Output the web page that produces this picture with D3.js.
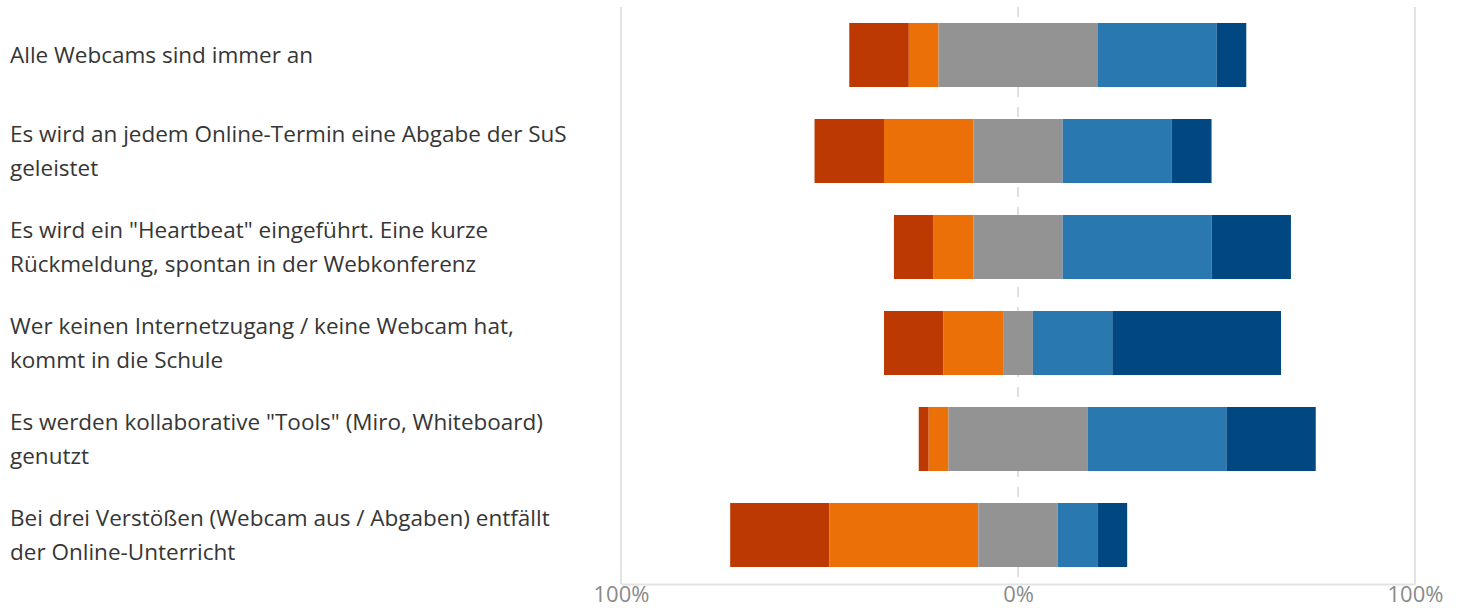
<!DOCTYPE html>
<html>
<head>
<meta charset="utf-8">
<script src="https://cdn.jsdelivr.net/npm/d3@7"></script>
<style>
  body { margin: 0; background: #fff; }
  svg { display: block; font-family: "Open Sans", "Noto Sans", sans-serif; }
</style>
</head>
<body>
<div id="chart"></div>
<script>
// Statements (line breaks as in the original)
const statements = [
  "Alle Webcams sind immer an",
  "Es wird an jedem Online-Termin eine Abgabe der SuS\ngeleistet",
  "Es wird ein \"Heartbeat\" eingeführt. Eine kurze\nRückmeldung, spontan in der Webkonferenz",
  "Wer keinen Internetzugang / keine Webcam hat,\nkommt in die Schule",
  "Es werden kollaborative \"Tools\" (Miro, Whiteboard)\ngenutzt",
  "Bei drei Verstößen (Webcam aus / Abgaben) entfällt\nder Online-Unterricht"
];

// Answer shares in percent, one array per answer level
const stronglyDisagree = [15, 17.5, 10, 15, 2.5, 25];
const disagree         = [7.5, 22.5, 10, 15, 5, 37.5];
const neutral          = [40, 22.5, 22.5, 7.5, 35, 20];
const agree            = [30, 27.5, 37.5, 20, 35, 10];
const stronglyAgree    = [7.5, 10, 20, 42.5, 22.5, 7.5];

const tickValues = [-100, 0, 100];
const tickLabels = ["100%", "0%", "100%"];

const keys = ["stronglyDisagree", "disagree", "neutral", "agree", "stronglyAgree"];
const colors = ["#bc3a01", "#eb7007", "#939393", "#2a78b0", "#014883"];

const data = statements.map((s, i) => ({
  label: s,
  stronglyDisagree: stronglyDisagree[i],
  disagree: disagree[i],
  neutral: neutral[i],
  agree: agree[i],
  stronglyAgree: stronglyAgree[i]
}));

const width = 1462, height = 608;

const svg = d3.select("#chart").append("svg")
  .attr("width", width)
  .attr("height", height);

const x = d3.scaleLinear().domain([-100, 100]).range([621, 1415]);
const y = d3.scaleBand()
  .domain(d3.range(data.length))
  .range([7, 583])
  .paddingInner(1 / 3)
  .paddingOuter(1 / 6);

const color = d3.scaleOrdinal().domain(keys).range(colors);

// grid lines at +/-100%
svg.append("g")
  .selectAll("line")
  .data(tickValues.filter(d => d !== 0))
  .join("line")
  .attr("x1", d => x(d)).attr("x2", d => x(d))
  .attr("y1", 7).attr("y2", 584)
  .attr("stroke", "#e3e3e3")
  .attr("stroke-width", 2);

// dashed zero line
svg.append("line")
  .attr("x1", x(0)).attr("x2", x(0))
  .attr("y1", 7).attr("y2", 584)
  .attr("stroke", "#e0e0e0")
  .attr("stroke-width", 2)
  .attr("stroke-dasharray", "10,10");

// bottom axis
const xAxis = svg.append("g")
  .attr("transform", "translate(0,584)")
  .call(d3.axisBottom(x).tickValues(tickValues).tickSize(0).tickPadding(2)
    .tickFormat((d, i) => tickLabels[i]));
xAxis.select(".domain").attr("stroke", "#e3e3e3").attr("stroke-width", 2);
xAxis.selectAll("text")
  .attr("fill", "#8a8a8a")
  .style("font-size", "22px")
  .style("font-family", "\"Open Sans\", sans-serif");

// diverging stack: neutral segment centred on 0%
const rows = svg.append("g")
  .selectAll("g")
  .data(data)
  .join("g")
  .attr("transform", (d, i) => `translate(0,${y(i)})`);

rows.each(function (d) {
  let start = -d.neutral / 2 - d.disagree - d.stronglyDisagree;
  const segs = keys.map(k => {
    const s = { key: k, x0: start, x1: start + d[k] };
    start += d[k];
    return s;
  });
  d3.select(this).selectAll("rect")
    .data(segs)
    .join("rect")
    .attr("x", s => x(s.x0))
    .attr("width", s => x(s.x1) - x(s.x0))
    .attr("y", 0)
    .attr("height", y.bandwidth())
    .attr("fill", s => color(s.key));
});

// statement labels
const labels = svg.append("g")
  .selectAll("text")
  .data(data)
  .join("text")
  .attr("x", 10)
  .attr("fill", "#363636")
  .style("font-size", "22.5px");

labels.each(function (d, i) {
  const lines = d.label.split("\n");
  const lh = 34;
  const cy = y(i) + y.bandwidth() / 2;
  const first = cy - (lines.length - 1) * lh / 2 + 8;
  d3.select(this).selectAll("tspan")
    .data(lines)
    .join("tspan")
    .attr("x", 10)
    .attr("y", (l, j) => first + j * lh)
    .text(l => l);
});
</script>
</body>
</html>
